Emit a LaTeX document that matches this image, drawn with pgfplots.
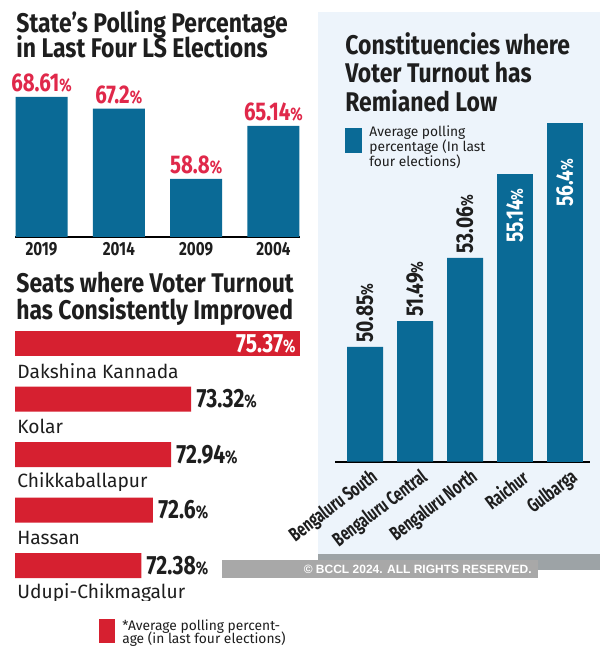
\documentclass[border=0pt]{standalone}
\usepackage{fontspec}
\setmainfont{Fira Sans}
\newfontfamily\cond[FakeStretch=0.85]{Fira Sans}
\newfontfamily\mcond[FakeStretch=0.8]{Fira Sans}
\newfontfamily\xcond[FakeStretch=0.7]{Fira Sans}
\newfontfamily\wm{Liberation Sans}
\usepackage{pgfplots}
\pgfplotsset{compat=1.18}
\definecolor{barblue}{HTML}{0A6A96}
\definecolor{barred}{HTML}{D62030}
\definecolor{redtext}{HTML}{E0284A}
\definecolor{panel}{HTML}{EDF4FB}
\definecolor{strip}{HTML}{9DA3A6}
\definecolor{wmgray}{HTML}{A8A8A8}
\definecolor{textdark}{HTML}{1E1E1E}
\begin{document}
\begin{tikzpicture}
\useasboundingbox (0,0) rectangle (300pt,328.5pt);
\fill[white] (0,0) rectangle (300pt,328.5pt);
% right panel
\fill[panel] (159pt,43.5pt) rectangle (300pt,322.5pt);
\fill[strip] (159pt,43.5pt) rectangle (300pt,51.5pt);
% titles
\tikzset{ttl/.style={anchor=base west, inner sep=0, text=textdark, font=\cond\bfseries\fontsize{13.5}{14}\selectfont}}
\node[ttl] at (8pt,312pt) {State’s Polling Percentage};
\node[ttl] at (8pt,299.5pt) {in Last Four LS Elections};
\node[ttl] at (8pt,182pt) {Seats where Voter Turnout};
\node[ttl] at (8pt,168.5pt) {has Consistently Improved};
\node[ttl] at (172.5pt,301pt) {Constituencies where};
\node[ttl] at (172.5pt,287pt) {Voter Turnout has};
\node[ttl] at (172.5pt,272.5pt) {Remianed Low};

% Chart 1
\begin{axis}[at={(7.5pt,210pt)}, anchor=south west, scale only axis,
  width=142.5pt, height=88.5pt,
  xmin=-0.343, xmax=3.344, ymin=51.86, ymax=73.03,
  axis x line=bottom, axis y line=none,
  axis line style={-, line width=1pt, black},
  xtick={0,1,2,3}, xticklabels={2019,2014,2009,2004},
  major tick length=0pt,
  xticklabel style={font=\mcond\bfseries\fontsize{9.5}{10}\selectfont, text=textdark, yshift=1pt},
  ybar, bar width=26pt, bar shift=0pt,
  point meta=explicit symbolic,
  nodes near coords={\pgfplotspointmeta{\fontsize{9}{9}\selectfont\%}},
  nodes near coords style={font=\mcond\bfseries\fontsize{12.8}{13}\selectfont, text=redtext, anchor=south, inner sep=2pt},
]
\addplot[fill=barblue, draw=none] coordinates {(0,68.61)[68.61] (1,67.2)[67.2] (2,58.8)[58.8] (3,65.14)[65.14]};
\end{axis}

% Chart 2
\begin{axis}[at={(7.5pt,28.5pt)}, anchor=south west, scale only axis,
  width=142.5pt, height=134.5pt,
  xmin=70, xmax=75.37, ymin=-0.225, ymax=4.62, y dir=reverse,
  hide axis,
  xbar, bar width=12.5pt, bar shift=0pt,
  point meta=explicit symbolic,
  nodes near coords={\pgfplotspointmeta{\fontsize{9}{9}\selectfont\%}},
  nodes near coords style={font=\mcond\bfseries\fontsize{13.2}{13}\selectfont, text=textdark, anchor=west, inner sep=2.5pt},
]
\addplot[fill=barred, draw=none, nodes near coords style={anchor=east, text=white, inner sep=2pt}] coordinates {(75.37,0)[75.37]};
\addplot[fill=barred, draw=none] coordinates {(73.32,1)[73.32] (72.94,2)[72.94] (72.6,3)[72.6] (72.38,4)[72.38]};
\tikzset{nm/.style={anchor=west, inner sep=0, xshift=1pt, font=\fontsize{9.6}{12}\selectfont, text=textdark}}
\node[nm] at (axis cs:70,0.5) {Dakshina Kannada};
\node[nm] at (axis cs:70,1.5) {Kolar};
\node[nm] at (axis cs:70,2.5) {Chikkaballapur};
\node[nm] at (axis cs:70,3.5) {Hassan};
\node[nm] at (axis cs:70,4.5) {Udupi-Chikmagalur};
\end{axis}
% chart 2 legend
\fill[barred] (49.5pt,7pt) rectangle (57.5pt,19pt);
\tikzset{lg2/.style={anchor=base west, inner sep=0, font=\fontsize{6.9}{8}\selectfont, text=textdark}}
\node[lg2] at (61pt,13pt) {*Average polling percent-};
\node[lg2] at (61pt,6.8pt) {age (in last four elections)};

% Chart 3
\begin{axis}[at={(167.5pt,97.65pt)}, anchor=south west, scale only axis,
  width=127.5pt, height=181.35pt,
  xmin=-0.6, xmax=4.5, ymin=48, ymax=57,
  axis x line=bottom, axis y line=none,
  axis line style={-, line width=1pt, black},
  xtick={0,1,2,3,4}, xticklabels={Bengaluru South,Bengaluru Central,Bengaluru North,Raichur,Gulbarga},
  major tick length=0pt,
  xticklabel style={font=\xcond\bfseries\fontsize{9.8}{9}\selectfont, text=textdark, inner sep=0pt, xshift=5.25pt, yshift=-6.75pt, rotate=37, anchor=east},
  ybar, bar width=18pt, bar shift=0pt,
  point meta=explicit symbolic,
  nodes near coords={\pgfplotspointmeta{\fontsize{8.5}{9}\selectfont\%}},
  nodes near coords style={font=\mcond\bfseries\fontsize{12}{12}\selectfont, inner sep=2pt},
]
\addplot[fill=barblue, draw=none, nodes near coords style={rotate=90, anchor=west, text=textdark}] coordinates {(0,50.85)[50.85] (1,51.49)[51.49] (2,53.06)[53.06]};
\addplot[fill=barblue, draw=none, nodes near coords style={yshift=-5pt, rotate=90, anchor=east, text=white}] coordinates {(3,55.14)[55.14]};
\addplot[fill=barblue, draw=none, nodes near coords style={yshift=-15.5pt, rotate=90, anchor=east, text=white}] coordinates {(4,56.4)[56.4]};
\end{axis}
% chart 3 legend
\fill[barblue] (172.5pt,252pt) rectangle (181pt,264.5pt);
\tikzset{lg3/.style={anchor=base west, inner sep=0, font=\fontsize{6.9}{8}\selectfont, text=textdark}}
\node[lg3] at (184.5pt,260pt) {Average polling};
\node[lg3] at (184.5pt,252.5pt) {percentage (In last};
\node[lg3] at (184.5pt,245pt) {four elections)};

% watermark
\fill[wmgray] (111pt,39.5pt) rectangle (269pt,48.5pt);
\node[anchor=east, inner sep=0, text=white, font=\wm\bfseries\fontsize{6}{6}\selectfont] at (266pt,44pt) {© BCCL 2024. ALL RIGHTS RESERVED.};
\end{tikzpicture}
\end{document}
